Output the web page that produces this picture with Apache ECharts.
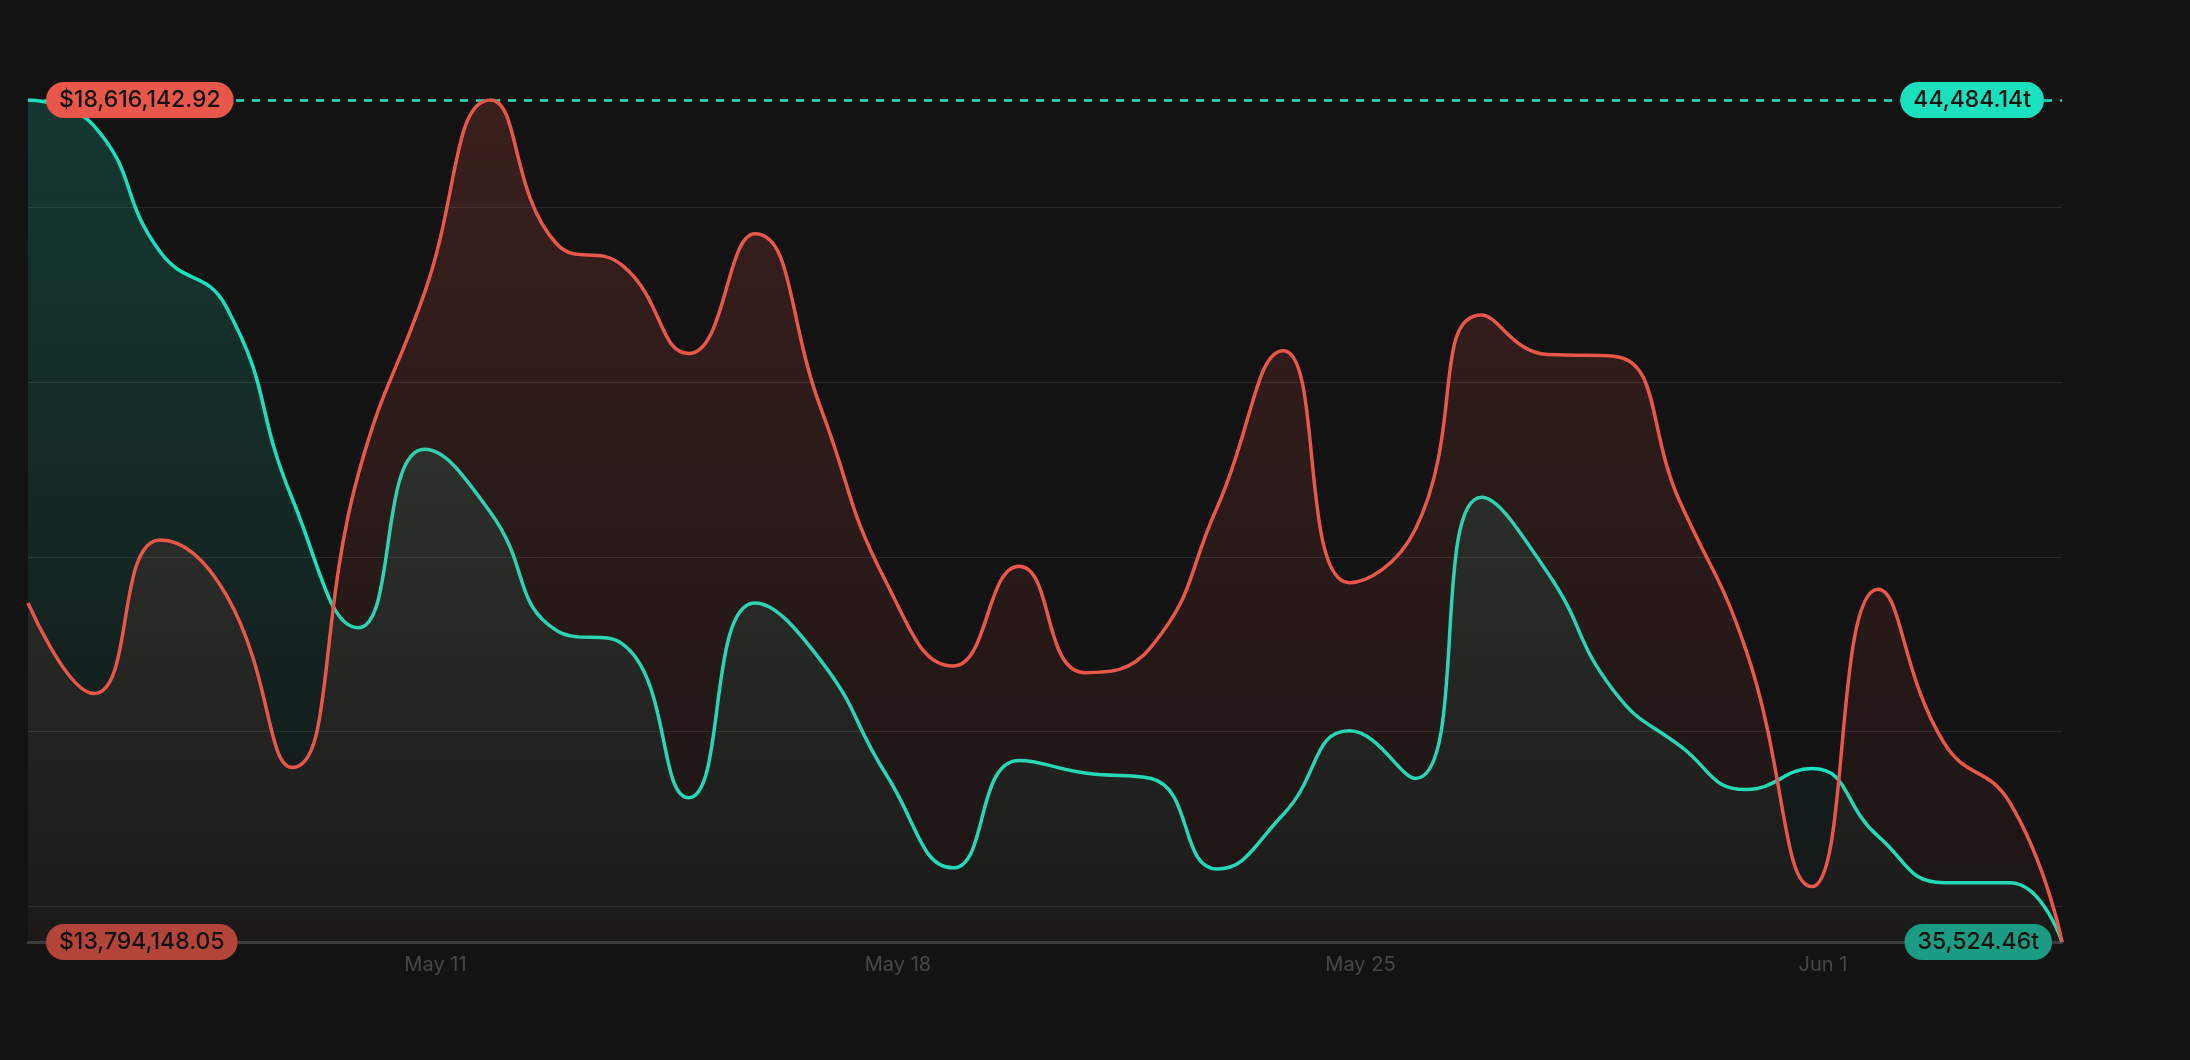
<!DOCTYPE html>
<html>
<head>
<meta charset="utf-8">
<script src="https://cdn.jsdelivr.net/npm/echarts@6/dist/echarts.min.js"></script>
<style>
html,body{margin:0;padding:0;background:#131313;}
#chart{width:2190px;height:1060px;}
</style>
</head>
<body>
<div id="chart"></div>
<script>
const dates = [
  '2024-05-04 20:00','2024-05-05 20:00','2024-05-06 20:00','2024-05-07 20:00',
  '2024-05-08 20:00','2024-05-09 20:00','2024-05-10 20:00','2024-05-11 20:00',
  '2024-05-12 20:00','2024-05-13 20:00','2024-05-14 20:00','2024-05-15 20:00',
  '2024-05-16 20:00','2024-05-17 20:00','2024-05-18 20:00','2024-05-19 20:00',
  '2024-05-20 20:00','2024-05-21 20:00','2024-05-22 20:00','2024-05-23 20:00',
  '2024-05-24 20:00','2024-05-25 20:00','2024-05-26 20:00','2024-05-27 20:00',
  '2024-05-28 20:00','2024-05-29 20:00','2024-05-30 20:00','2024-05-31 20:00',
  '2024-06-01 20:00','2024-06-02 20:00','2024-06-03 20:00','2024-06-04 14:50'
];
const revenue = [
  15735488.31, 15217204.77, 16096770.12, 15782620.48, 14793105.66, 16473770.25,
  17510512.90, 18616142.92, 17793104.37, 17667571.08, 17164893.54, 17849512.61,
  16850693.20, 15845462.83, 15374260.19, 15945971.44, 15336570.72, 15484221.05,
  16285283.36, 17180594.58, 15851742.27, 16159590.83, 17384752.14, 17158613.49,
  17149190.06, 16316692.71, 15468524.38, 14111432.95, 15814053.62, 14934471.17,
  14588912.40, 13794148.05
];
const tonnage = [
  44484.14, 44209.37, 42868.52, 42284.10, 40240.66, 38869.25,
  40766.83, 40095.41, 38840.17, 38694.72, 37060.38, 39132.56,
  38519.04, 37293.81, 36313.29, 37456.63, 37322.48, 37264.15,
  36301.90, 36884.27, 37772.35, 37264.70, 40258.12, 39453.66,
  38198.43, 37614.08, 37147.52, 37369.94, 36651.21, 36155.47,
  36155.02, 35524.46
];
const tickDates = ['2024-05-11','2024-05-18','2024-05-25','2024-06-01'];
const tickLabels = ['May 11','May 18','May 25','Jun 1'];
const revenueGrid = [14000000, 15000000, 16000000, 17000000, 18000000];

function toTime(s){
  const [d, t] = s.split(' ');
  const [y, m, dd] = d.split('-').map(Number);
  const [hh, mm] = (t || '00:00').split(':').map(Number);
  return new Date(y, m - 1, dd, hh, mm).getTime();
}
const times = dates.map(toTime);
const tickTimes = tickDates.map(toTime);
const fmtMoney = v => '$' + v.toLocaleString('en-US', {minimumFractionDigits: 2, maximumFractionDigits: 2});
const fmtTon = v => v.toLocaleString('en-US', {minimumFractionDigits: 2, maximumFractionDigits: 2}) + 't';

const rMin = Math.min(...revenue), rMax = Math.max(...revenue);
const tMin = Math.min(...tonnage), tMax = Math.max(...tonnage);
const tFirst = times[0], tLast = times[times.length - 1];

const RED = '#e8574a', TEAL = '#19e0bd';
const FONT = 'Inter, "Noto Sans", sans-serif';

function pill(text, bg, position, distance){
  return {
    show: true, position: position, distance: distance, formatter: text,
    backgroundColor: bg, color: '#111111', fontFamily: FONT, fontSize: 23, fontWeight: 500,
    lineHeight: 24, padding: [6, 13, 6, 13], borderRadius: 18
  };
}

const chart = echarts.init(document.getElementById('chart'), null, {renderer: 'canvas'});
chart.setOption({
  backgroundColor: '#131313',
  animation: false,
  grid: {left: 28, right: 128, top: 100, bottom: 118},
  xAxis: {
    type: 'value', min: tFirst, max: tLast, scale: true,
    axisLine: {show: true, onZero: false, lineStyle: {color: '#3a3a38', width: 3}},
    axisTick: {show: false, customValues: tickTimes},
    splitLine: {show: false},
    axisLabel: {
      customValues: tickTimes,
      formatter: function(v){ const i = tickTimes.indexOf(v); return i >= 0 ? tickLabels[i] : ''; },
      color: '#474747', fontSize: 20, fontFamily: FONT, margin: 13
    }
  },
  yAxis: [
    {type: 'value', min: rMin, max: rMax, show: false, splitLine: {show: false}},
    {type: 'value', min: tMin, max: tMax, show: false, splitLine: {show: false}}
  ],
  series: [
    {
      name: 'Tonnage', type: 'line', yAxisIndex: 1,
      data: times.map((t, i) => [t, tonnage[i]]),
      smooth: 0.5, symbol: 'none', z: 2,
      lineStyle: {color: TEAL, width: 3.5},
      areaStyle: {origin: 'start', color: {type: 'linear', x: 0, y: 0, x2: 0, y2: 1, colorStops: [
        {offset: 0, color: 'rgba(25,224,189,0.26)'}, {offset: 1, color: 'rgba(25,224,189,0.03)'}]}},
      markPoint: {
        silent: true, symbol: 'circle', symbolSize: 0, z: 10,
        itemStyle: {color: 'rgba(0,0,0,0)'},
        data: [
          {coord: [tLast, tMax], label: pill(fmtTon(tMax), TEAL, 'left', 18)},
          {coord: [tLast, tMin], label: pill(fmtTon(tMin), '#1a9b83', 'left', 10)}
        ]
      }
    },
    {
      name: 'Revenue', type: 'line', yAxisIndex: 0,
      data: times.map((t, i) => [t, revenue[i]]),
      smooth: 0.5, symbol: 'none', z: 3,
      lineStyle: {color: RED, width: 3.5},
      areaStyle: {origin: 'start', color: {type: 'linear', x: 0, y: 0, x2: 0, y2: 1, colorStops: [
        {offset: 0, color: 'rgba(232,87,74,0.26)'}, {offset: 1, color: 'rgba(232,87,74,0.05)'}]}},
      markLine: {
        silent: true, symbol: ['none', 'none'], z: 1,
        label: {show: false},
        data: revenueGrid.map(v => ({yAxis: v, lineStyle: {color: '#2a2a2a', width: 1, type: 'solid'}}))
          .concat([{yAxis: rMax, lineStyle: {color: TEAL, width: 2.5, type: [8, 8]}}])
      },
      markPoint: {
        silent: true, symbol: 'circle', symbolSize: 0, z: 10,
        itemStyle: {color: 'rgba(0,0,0,0)'},
        data: [
          {coord: [tFirst, rMax], label: pill(fmtMoney(rMax), RED, 'right', 18)},
          {coord: [tFirst, rMin], label: pill(fmtMoney(rMin), '#b3443a', 'right', 18)}
        ]
      }
    }
  ]
});
</script>
</body>
</html>
